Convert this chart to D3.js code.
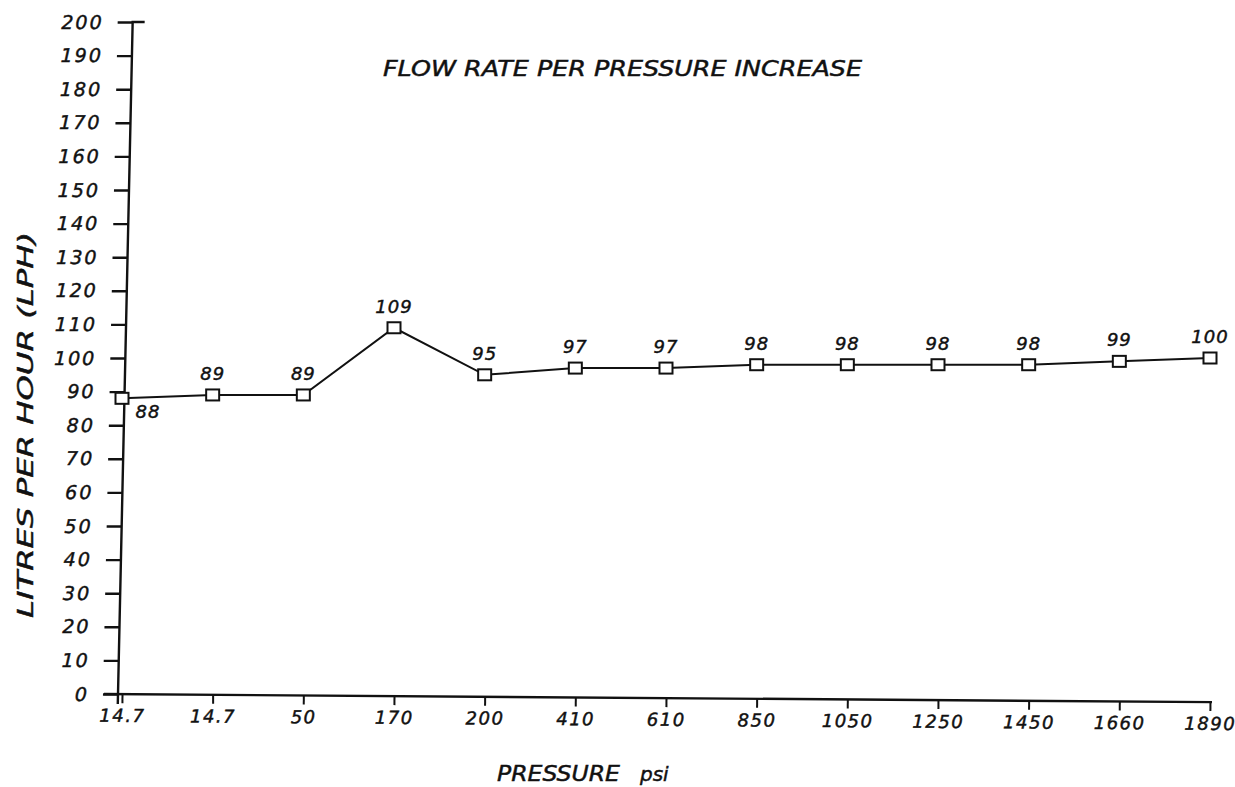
<!DOCTYPE html>
<html>
<head>
<meta charset="utf-8">
<script src="https://cdn.jsdelivr.net/npm/d3@7/dist/d3.min.js"></script>
<style>
  html, body { margin: 0; padding: 0; background: #fff; }
  svg { display: block; }
  text { font-family: "DejaVu Sans", sans-serif; font-style: italic; fill: #111; stroke: #111; stroke-width: 0.45px; }
</style>
</head>
<body>
<svg id="chart" width="1235" height="787"></svg>
<script>
// ---- data ----
const pressures = ["14.7", "14.7 ", "50", "170", "200", "410", "610", "850", "1050", "1250", "1450", "1660", "1890"];
const flowLPH = [88, 89, 89, 109, 95, 97, 97, 98, 98, 98, 98, 99, 100];
const yTicks = d3.range(0, 201, 10);
const titleText = "FLOW RATE PER PRESSURE INCREASE";
const yTitleText = "LITRES PER HOUR (LPH)";
const xTitleMain = "PRESSURE";
const xTitleUnit = "psi";

// ---- layout ----
const svg = d3.select("#chart");
const xLeft = 122, xRight = 1210, yBottom = 694, yTop = 22;

const x = d3.scalePoint().domain(pressures).range([xLeft, xRight]).padding(0);
const y = d3.scaleLinear().domain([0, 200]).range([yBottom, yTop]);

const ink = "#111";

// ---- y axis (slightly slanted like the hand drawing) ----
const yAxisG = svg.append("g")
  .attr("transform", `translate(${xLeft - 4},0) translate(0,${yBottom}) skewX(-1.25) translate(0,${-yBottom})`);
yAxisG.call(d3.axisLeft(y).tickValues(yTicks).tickSize(15).tickPadding(14).tickFormat(d3.format("d")))
  .call(g => g.selectAll("text").style("font-size", "19px").style("letter-spacing", "2px").style("font-style", "italic").attr("fill", ink))
  .call(g => g.selectAll("line").attr("stroke", ink).attr("stroke-width", 2.4))
  .call(g => g.select(".domain").attr("stroke", ink).attr("stroke-width", 2.4).attr("d", `M0,${yBottom + 10}V${yTop}H12`));

// ---- x axis (slight downward slope) ----
const xAxisG = svg.append("g")
  .attr("transform", `translate(0,${yBottom}) rotate(0.42, ${xLeft - 18}, 0)`);
xAxisG.call(d3.axisBottom(x).tickSize(9).tickPadding(6).tickSizeOuter(0))
  .call(g => g.select(".domain").attr("stroke", ink).attr("stroke-width", 2.4)
      .attr("d", `M${xLeft - 18},0H${xRight + 2}`))
  .call(g => g.selectAll("line").attr("stroke", ink).attr("stroke-width", 2))
  .call(g => g.selectAll("text").style("font-size", "18px").style("letter-spacing", "1.5px").style("font-style", "italic").attr("fill", ink).text(d => d.trim()));

// ---- line ----
const data = pressures.map((p, i) => ({ p, v: flowLPH[i], i }));
svg.append("path")
  .datum(data)
  .attr("fill", "none")
  .attr("stroke", ink)
  .attr("stroke-width", 2)
  .attr("d", d3.line().x(d => x(d.p)).y(d => y(d.v)));

// ---- markers ----
svg.append("g").selectAll("rect")
  .data(data)
  .join("rect")
  .attr("x", d => x(d.p) - 6.5)
  .attr("y", d => y(d.v) - 5.5)
  .attr("width", 13)
  .attr("height", 11)
  .attr("fill", "#fff")
  .attr("stroke", ink)
  .attr("stroke-width", 2);

// ---- value labels ----
svg.append("g").selectAll("text")
  .data(data)
  .join("text")
  .attr("x", d => d.i === 0 ? x(d.p) + 26 : x(d.p))
  .attr("y", d => d.i === 0 ? y(d.v) + 20 : y(d.v) - 15)
  .attr("text-anchor", "middle")
  .style("font-size", "18px")
  .style("letter-spacing", "1px")
  .text(d => d.v);

// ---- titles ----
svg.append("text")
  .attr("x", 383).attr("y", 76)
  .attr("textLength", 479).attr("lengthAdjust", "spacingAndGlyphs")
  .style("font-size", "21px")
  .text(titleText);

svg.append("text")
  .attr("transform", "translate(33,618) rotate(-90)")
  .attr("textLength", 386).attr("lengthAdjust", "spacingAndGlyphs")
  .style("font-size", "21px")
  .text(yTitleText);

svg.append("text")
  .attr("x", 497).attr("y", 781)
  .attr("textLength", 123).attr("lengthAdjust", "spacingAndGlyphs")
  .style("font-size", "21px")
  .text(xTitleMain);

svg.append("text")
  .attr("x", 640).attr("y", 781)
  .style("font-size", "20px")
  .text(xTitleUnit);
</script>
</body>
</html>
